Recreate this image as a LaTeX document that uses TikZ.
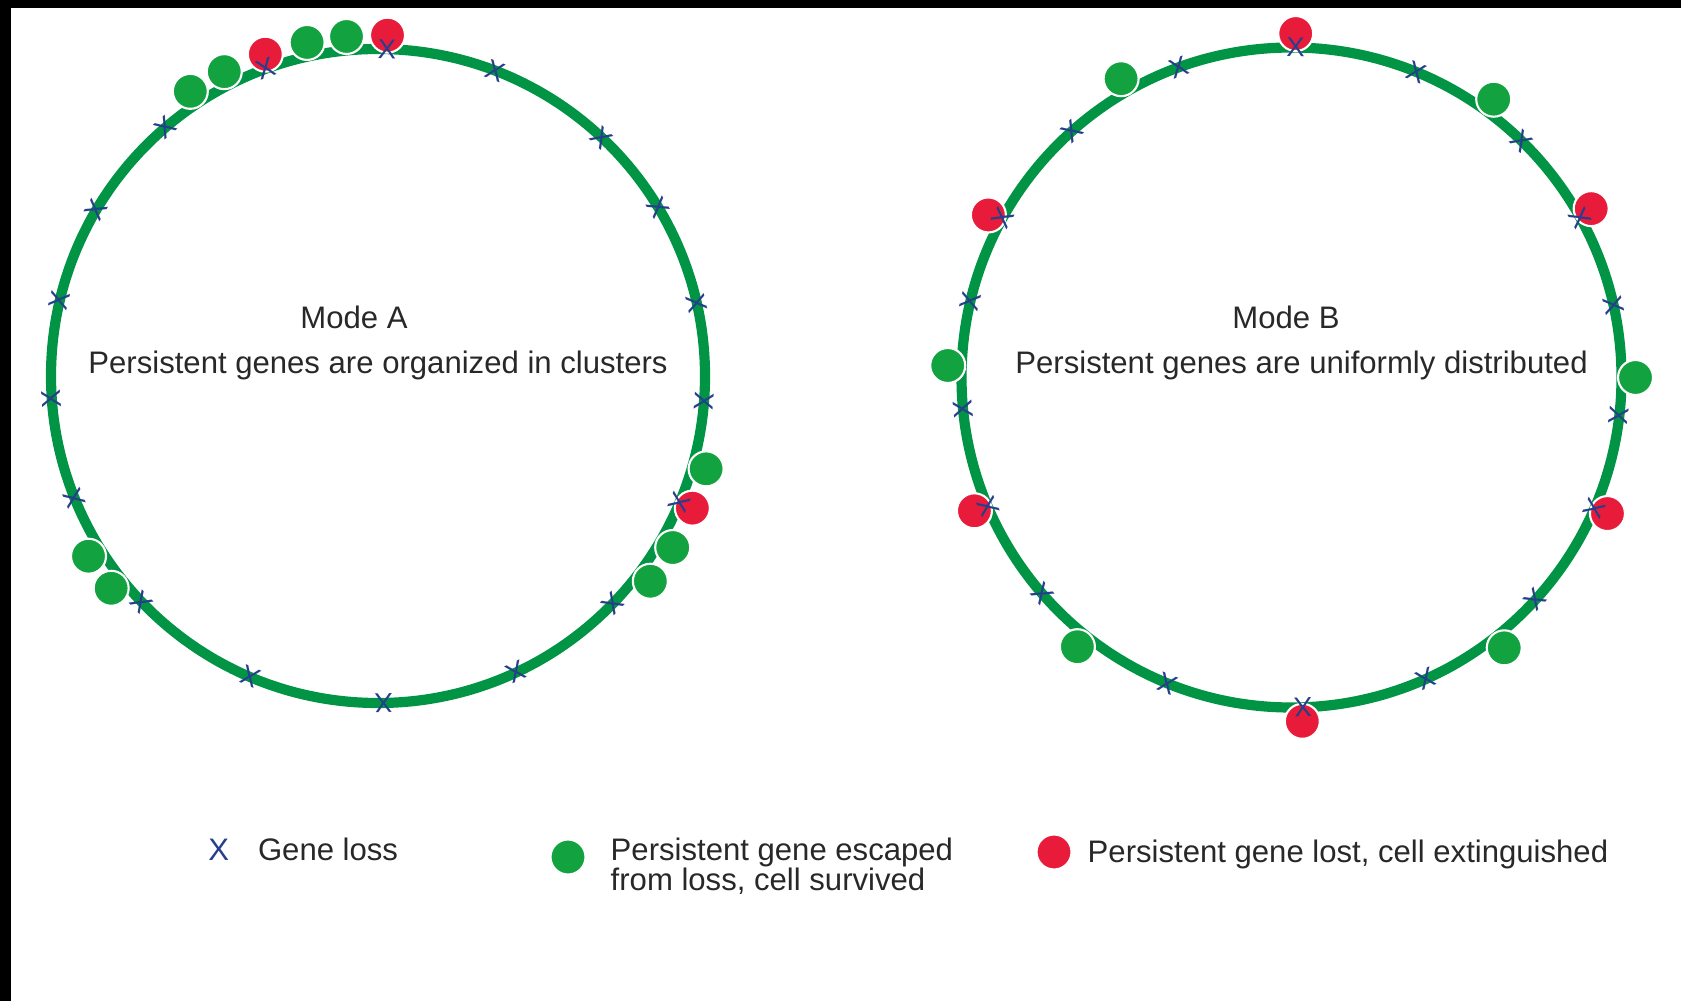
\documentclass[tikz,border=0pt]{standalone}
\usepackage{fontspec}
\setmainfont{Liberation Sans}
\usetikzlibrary{calc}

\begin{document}
\begin{tikzpicture}[
        ring/.style={circle, draw=ringgreen, line width=2.9pt, inner sep=0pt},
        lossmark/.style={text=xblue, inner sep=0pt, font=\fontsize{7.8}{8}\selectfont},
        keptdot/.style={circle, fill=dotgreen, draw=white, line width=0.6pt, minimum size=0.35cm, inner sep=0pt},
        lostdot/.style={keptdot, fill=dotred},
        captiontext/.style={text=textgray, inner sep=0pt, font=\fontsize{8.85}{8.5}\selectfont}
    ]
        \definecolor{ringgreen}{RGB}{0,148,68}
        \definecolor{dotgreen}{RGB}{18,163,64}
        \definecolor{dotred}{RGB}{232,28,58}
        \definecolor{xblue}{RGB}{38,62,140}
        \definecolor{textgray}{RGB}{40,40,40}

        \useasboundingbox (0,0) rectangle (16.81,10.01);
        % black strips of the scan, left and top
        \fill[black] (0,0) rectangle (0.11,10.01);
        \fill[black] (0,9.93) rectangle (16.81,10.01);

        % Mode A - clustered
        \node[ring, minimum size=6.54cm] (ringA) at (3.78,6.25) {};
        \foreach \a [count=\i] in {123.4,116.8,102,95.3,-15.8,-30.2,-37,211.9,218.5}
            \node[keptdot] (keptA\i) at ($(ringA.center)+(\a:3.41)$) {};
        \foreach \a [count=\i] in {109.3,88.4,-22.8}
            \node[lostdot] (lostA\i) at ($(ringA.center)+(\a:3.41)$) {};
        \foreach \a [count=\i] in {88.4,110,69,130.5,46.8,149.5,31,166.6,12.9,184,-4.5,202,-22.8,223.7,-44,247,-65,271}
            \node[lossmark, rotate=\a-90] (lossA\i) at ($(ringA.center)+(\a:3.27)$) {X};
        \node[captiontext, anchor=base] (titleA) at (3.54,6.73) {Mode A};
        \node[captiontext, anchor=base] (textA) at (3.78,6.28) {Persistent genes are organized in clusters};

        % Mode B - uniform
        \node[ring, minimum size=6.60cm] (ringB) at (12.915,6.235) {};
        \foreach \a [count=\i] in {119.7,54,178,0,231.5,-51.8}
            \node[keptdot] (keptB\i) at ($(ringB.center)+(\a:3.44)$) {};
        \foreach \a [count=\i] in {89.3,151.8,29.4,202.8,-23.3,-88.2}
            \node[lostdot] (lostB\i) at ($(ringB.center)+(\a:3.44)$) {};
        \foreach \a [count=\i] in {89.3,110,67.8,131.8,45.8,151,28.9,166.6,12.7,185.6,-6.7,203,-23.5,221,-42.4,248,-66,272}
            \node[lossmark, rotate=\a-90] (lossB\i) at ($(ringB.center)+(\a:3.30)$) {X};
        \node[captiontext, anchor=base] (titleB) at (12.86,6.73) {Mode B};
        \node[captiontext, anchor=base] (textB) at (13.015,6.28) {Persistent genes are uniformly distributed};

        % legend
        \node[lossmark, font=\fontsize{8.85}{9}\selectfont, anchor=base] (legLoss) at (2.187,1.41) {X};
        \node[captiontext, anchor=base west] (legLossText) at (2.573,1.41) {Gene loss};
        \node[keptdot] (legKept) at (5.68,1.44) {};
        \node[captiontext, anchor=base west, align=left] (legKeptText) at (6.10,1.11) {Persistent gene escaped\\from loss, cell survived};
        \node[lostdot] (legLost) at (10.54,1.49) {};
        \node[captiontext, anchor=base west] (legLostText) at (10.87,1.39) {Persistent gene lost, cell extinguished};
    \end{tikzpicture}
\end{document}
